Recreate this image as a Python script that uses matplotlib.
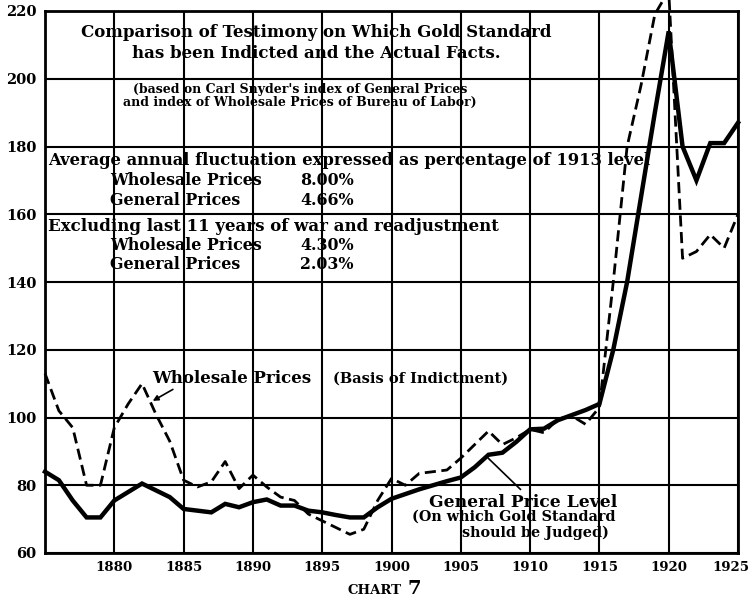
import matplotlib.pyplot as plt
import matplotlib.transforms as mtransforms
import numpy as np

years = list(range(1875, 1926))

# Bureau of Labor wholesale price index (dashed)
wholesale = [113, 102, 97, 80, 80, 97, 104, 110, 101, 93,
             81.5, 79.5, 81, 87, 79, 83, 79.5, 76.5, 75.5, 71.5,
             69.5, 67.5, 65.5, 67, 75.5, 82, 80, 83.5, 84, 84.5,
             88, 92, 96, 92, 94, 96.5, 95.5, 99.5, 100.5, 98,
             103, 140, 180, 198, 219, 226, 147, 149, 154, 150,
             160]

# Carl Snyder's general price level (solid)
general = [84, 81.5, 75.5, 70.5, 70.5, 75.5, 78, 80.5, 78.5, 76.5,
           73, 72.5, 72, 74.5, 73.5, 75, 75.8, 74, 74, 72.5,
           72, 71.2, 70.5, 70.5, 73.5, 76, 77.4, 78.8, 80, 81.2,
           82.3, 85.3, 89, 89.6, 92.8, 96.5, 96.7, 99.2, 100.7, 102.2,
           104, 120, 140, 165, 190, 214, 180, 170, 181, 181,
           187]

xticks = list(range(1880, 1930, 5))
yticks = list(range(60, 240, 20))

serif = "DejaVu Serif"

fig = plt.figure(figsize=(7.54, 5.99), dpi=100)
ax = fig.add_axes([45 / 754, 1 - 553 / 599, (738 - 45) / 754, (553 - 11) / 599])

ax.set_xlim(1875, 1925)
ax.set_ylim(60, 220)

for x in xticks:
    ax.axvline(x, color="black", lw=1.5, zorder=1)
for y in yticks:
    ax.axhline(y, color="black", lw=1.5, zorder=1)

ax.plot(years, wholesale, color="black", lw=2, ls=(0, (4, 2)), clip_on=False, zorder=3)
ax.plot(years, general, color="black", lw=3.2, clip_on=False, zorder=3, solid_joinstyle="miter")

ax.set_xticks(xticks)
ax.set_yticks(yticks)
ax.tick_params(length=0, pad=6)
for lab in ax.get_xticklabels() + ax.get_yticklabels():
    lab.set_fontfamily(serif)
    lab.set_fontweight("bold")
    lab.set_fontsize(10.5)
for lab in ax.get_xticklabels():
    lab.set_fontsize(9.6)
# last year label sits a little left so it stays on the page
last = ax.get_xticklabels()[-1]
last.set_transform(last.get_transform() + mtransforms.ScaledTranslation(-0.07, 0, fig.dpi_scale_trans))
for s in ax.spines.values():
    s.set_linewidth(2)

bold = dict(family=serif, weight="bold", color="black", zorder=4)

ax.text(1894.6, 213.7, "Comparison of Testimony on Which Gold Standard",
        ha="center", va="center", fontsize=12, **bold)
ax.text(1894.6, 207.5, "has been Indicted and the Actual Facts.",
        ha="center", va="center", fontsize=12, **bold)
ax.text(1893.4, 196.8, "(based on Carl Snyder's index of General Prices",
        ha="center", va="center", fontsize=9, **bold)
ax.text(1893.4, 192.9, "and index of Wholesale Prices of Bureau of Labor)",
        ha="center", va="center", fontsize=9, **bold)

ax.text(1875.2, 175.9, "Average annual fluctuation expressed as percentage of 1913 level",
        ha="left", va="center", fontsize=11.8, **bold)
ax.text(1879.7, 170, "Wholesale Prices", ha="left", va="center", fontsize=11.4, **bold)
ax.text(1893.4, 170, "8.00%", ha="left", va="center", fontsize=11.4, **bold)
ax.text(1879.7, 164.1, "General Prices", ha="left", va="center", fontsize=11.4, **bold)
ax.text(1893.4, 164.1, "4.66%", ha="left", va="center", fontsize=11.4, **bold)

ax.text(1875.2, 156.5, "Excluding last 11 years of war and readjustment",
        ha="left", va="center", fontsize=12, **bold)
ax.text(1879.7, 150.9, "Wholesale Prices", ha="left", va="center", fontsize=11.4, **bold)
ax.text(1893.4, 150.9, "4.30%", ha="left", va="center", fontsize=11.4, **bold)
ax.text(1879.7, 145.3, "General Prices", ha="left", va="center", fontsize=11.4, **bold)
ax.text(1893.4, 145.3, "2.03%", ha="left", va="center", fontsize=11.4, **bold)

ax.text(1882.7, 111.6, "Wholesale Prices", ha="left", va="center", fontsize=12, **bold)
ax.text(1895.8, 111.6, "(Basis of Indictment)", ha="left", va="center", fontsize=10.5, **bold)
ax.annotate("", xy=(1882.6, 104.5), xytext=(1884.4, 108.7),
            arrowprops=dict(arrowstyle="-|>", color="black", lw=1.2, mutation_scale=8), zorder=4)

ax.text(1909.5, 74.8, "General Price Level", ha="center", va="center", fontsize=12.3, **bold)
ax.text(1901.5, 70.6, "(On which Gold Standard", ha="left", va="center", fontsize=10.4, **bold)
ax.text(1905.1, 66, "should be Judged)", ha="left", va="center", fontsize=10.4, **bold)
ax.plot([1909.3, 1907.0], [78.8, 87.9], color="black", lw=1.2, zorder=4)

fig.text(402 / 754, 1 - 594 / 599, "CHART", ha="right", va="baseline",
         family=serif, weight="bold", fontsize=9.5)
fig.text(407 / 754, 1 - 594 / 599, "7", ha="left", va="baseline",
         family=serif, weight="bold", fontsize=14)

fig.savefig("out.png", dpi=100)
